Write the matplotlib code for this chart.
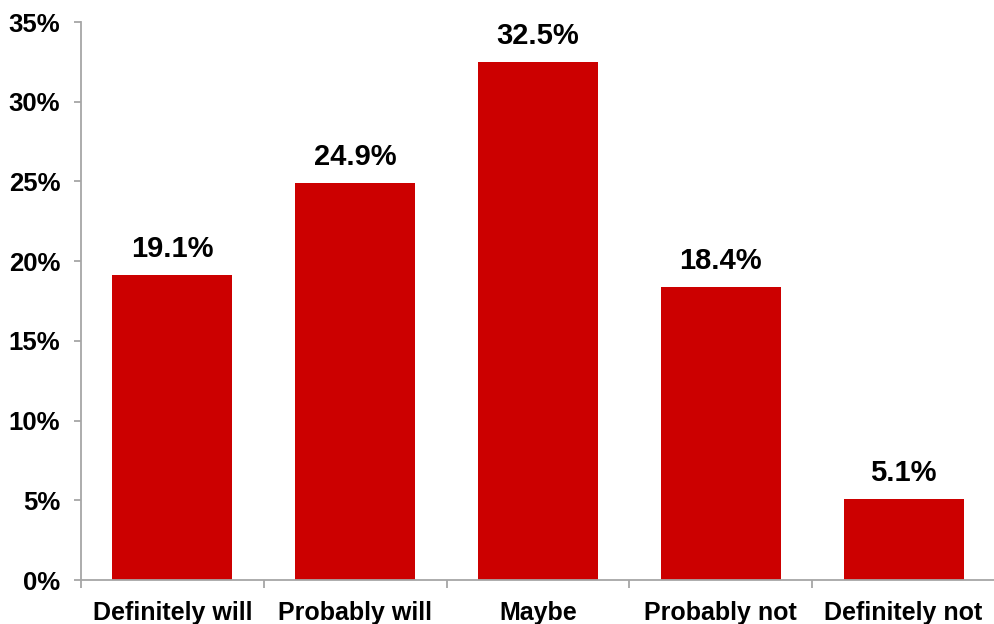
# Survey: likelihood chart
import matplotlib.pyplot as plt
from matplotlib.ticker import FuncFormatter

categories = ['Definitely will', 'Probably will', 'Maybe', 'Probably not', 'Definitely not']
values = [19.1, 24.9, 32.5, 18.4, 5.1]

plt.rcParams['font.family'] = ['Liberation Sans', 'DejaVu Sans']
plt.rcParams['font.weight'] = 'bold'

fig = plt.figure(figsize=(9.95, 6.24), dpi=100)
ax = fig.add_axes([81 / 995, 1 - 580 / 624, 1 - 81 / 995, 558 / 624])

x = range(len(categories))
bars = ax.bar(x, values, width=0.656, color='#CC0000', zorder=2)

for xi, v in zip(x, values):
    ax.annotate(f'{v:.1f}%', (xi, v), xytext=(0, 13), textcoords='offset points',
                ha='center', va='baseline', fontsize=21, fontweight='bold')

ax.set_ylim(0, 35)
ax.set_yticks(range(0, 36, 5))
ax.yaxis.set_major_formatter(FuncFormatter(lambda y, p: f'{int(y)}%'))
ax.set_xlim(-0.5, 4.41)
ax.set_xticks(list(x))
ax.set_xticklabels(categories)
ax.set_xticks([i + 0.5 for i in range(-1, 5)], minor=True)

for s in ['top', 'right']:
    ax.spines[s].set_visible(False)
for s in ['left', 'bottom']:
    ax.spines[s].set_color('#A6A6A6')
    ax.spines[s].set_linewidth(1.3)

ax.tick_params(axis='y', length=5, width=1.3, color='#A6A6A6', labelsize=18.5, pad=10)
ax.tick_params(axis='x', which='major', length=0, labelsize=18, pad=15)
ax.tick_params(axis='x', which='minor', length=6, width=1.3, color='#A6A6A6')

plt.savefig('out.png', dpi=100)
